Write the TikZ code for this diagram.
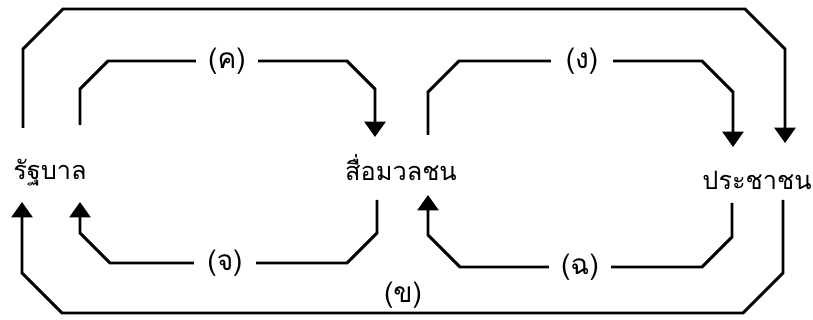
\documentclass[tikz,border=0pt]{standalone}
\usepackage{fontspec}
\newfontfamily\thaifont[Script=Thai]{Loma}
\usetikzlibrary{calc, arrows.meta}

\begin{document}
\begin{tikzpicture}[
  x=0.025cm, y=-0.025cm,
  actor/.style={inner sep=0pt, anchor=base, font=\thaifont\fontsize{18}{21}\selectfont},
  tag/.style={inner sep=0pt, minimum width=44pt, font=\thaifont\fontsize{20}{23}\selectfont},
  link/.style={line width=2.1pt, line join=miter},
  arr/.style={-{Triangle[width=15pt, length=11pt]}, line width=2.1pt, line join=miter}
]
  \useasboundingbox (0,0) rectangle (813,320);
  % the three actors
  \node[actor] (gov)   at (50,180)  {รัฐบาล};
  \node[actor] (media) at (401,181) {สื่อมวลชน};
  \node[actor] (pub)   at (757,190) {ประชาชน};
  % labels on the loops
  \node[tag] (lk) at (227,61)  {(ค)};
  \node[tag] (lg) at (582,61)  {(ง)};
  \node[tag] (lj) at (225,263) {(จ)};
  \node[tag] (lf) at (580,267) {(ฉ)};
  \node[tag] (lk2) at (403,295) {(ข)};
  % outer loop on top: gov -> pub
  \draw[arr] ($(gov.base)+(-27,-52)$) -- (23,49) -- (63,9) -- (745,9) -- (785,49)
             -- ($(pub.base)+(28,-47)$);
  % gov -> media
  \draw[link] ($(gov.base)+(30,-55)$) -- (80,89) -- (108,61) -- (lk.west);
  \draw[arr] (lk.east) -- (347,61) -- (375,89) -- ($(media.base)+(-26,-44)$);
  % media -> pub
  \draw[link] ($(media.base)+(27,-46)$) -- (428,92) -- (459,61) -- (lg.west);
  \draw[arr] (lg.east) -- (702,61) -- (733,92) -- ($(pub.base)+(-24,-43)$);
  % media -> gov
  \draw[link] ($(media.base)+(-24,19)$) -- (377,233) -- (347,263) -- (lj.east);
  \draw[arr] (lj.west) -- (110,263) -- (80,233) -- ($(gov.base)+(30,22)$);
  % pub -> media
  \draw[link] ($(pub.base)+(-25,13)$) -- (732,237) -- (702,267) -- (lf.east);
  \draw[arr] (lf.west) -- (460,267) -- (428,235) -- ($(media.base)+(27,14)$);
  % outer loop below: pub -> gov
  \draw[arr] ($(pub.base)+(26,10)$) -- (783,273) -- (743,313) -- (62,313) -- (22,273)
             -- ($(gov.base)+(-28,22)$);
\end{tikzpicture}
\end{document}
